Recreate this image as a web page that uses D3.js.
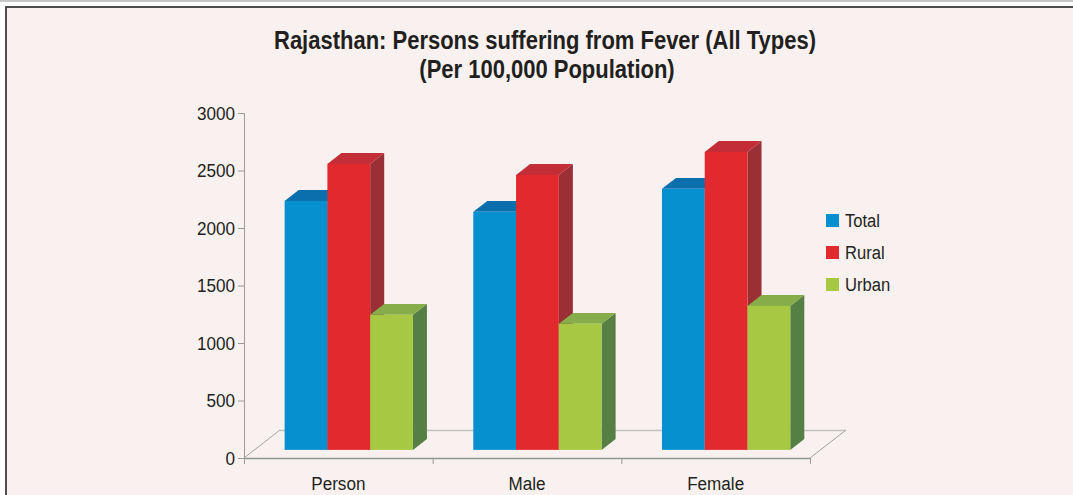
<!DOCTYPE html>
<html>
<head>
<meta charset="utf-8">
<script src="https://cdn.jsdelivr.net/npm/d3@7"></script>
<style>
  body { margin: 0; background: #fff; }
  svg { display: block; font-family: "Liberation Sans", Arial, sans-serif; }
</style>
</head>
<body>
<script>
const categories = ["Person", "Male", "Female"];
const seriesNames = ["Total", "Rural", "Urban"];
const totalValues = [2165, 2070, 2270];
const ruralValues = [2487, 2391, 2591];
const urbanValues = [1174, 1096, 1252];
const yTicks = [0, 500, 1000, 1500, 2000, 2500, 3000];

const colors = {
  Total: { front: "#0790d0", top: "#0b6fae", side: "#0a5f95" },
  Rural: { front: "#e2292d", top: "#c22d38", side: "#9b2f36" },
  Urban: { front: "#a7c843", top: "#87ad4a", side: "#557f44" }
};

const width = 1073;
const height = 495;
const plot = { left: 244, right: 810, top: 113, bottom: 458 };
const floorDepth = { dx: 36, dy: -28 };
const barFront = 0.29;   // where bars start inside the floor depth
const barDepth = 0.39;   // how deep the bars are
const narrow = 0.9;      // squeeze text to look like a narrow face
const titleNarrow = 0.88;

const svg = d3.select("body").append("svg")
    .attr("width", width)
    .attr("height", height);

// page frame
svg.append("line")
    .attr("x1", 0).attr("x2", width).attr("y1", 1).attr("y2", 1)
    .attr("stroke", "#c6c6c6").attr("stroke-width", 2);
svg.append("rect")
    .attr("x", 6).attr("y", 7)
    .attr("width", width + 20).attr("height", height + 20)
    .attr("fill", "#f9f1ef")
    .attr("stroke", "#4d4d4d").attr("stroke-width", 2);

// title
const titleLines = [
  { text: "Rajasthan: Persons suffering from Fever (All Types)", x: 545, y: 49 },
  { text: "(Per 100,000 Population)", x: 547, y: 78 }
];
svg.selectAll(".title")
    .data(titleLines)
    .enter().append("g")
    .attr("class", "title")
    .attr("transform", d => `translate(${d.x},${d.y}) scale(${titleNarrow},1)`)
    .append("text")
    .attr("text-anchor", "middle")
    .attr("font-weight", "bold")
    .attr("font-size", 25)
    .attr("fill", "#231f20")
    .text(d => d.text);

const x = d3.scaleBand()
    .domain(categories)
    .range([plot.left, plot.right])
    .padding(0);

const y = d3.scaleLinear()
    .domain([0, 3000])
    .range([plot.bottom, plot.top]);

const inner = d3.scaleBand()
    .domain(seriesNames)
    .range([0, x.bandwidth() * 0.68])
    .padding(0);

// floor
const fd = floorDepth;
const floor = svg.append("g").attr("fill", "none");
floor.append("line")
    .attr("x1", plot.left + fd.dx).attr("x2", plot.right + fd.dx)
    .attr("y1", plot.bottom + fd.dy + 0.5).attr("y2", plot.bottom + fd.dy + 0.5)
    .attr("stroke", "#c2c2c2").attr("stroke-width", 1.5);
floor.append("line")
    .attr("x1", plot.left).attr("y1", plot.bottom)
    .attr("x2", plot.left + fd.dx).attr("y2", plot.bottom + fd.dy)
    .attr("stroke", "#a4a4a4");
floor.append("line")
    .attr("x1", plot.right).attr("y1", plot.bottom)
    .attr("x2", plot.right + fd.dx).attr("y2", plot.bottom + fd.dy)
    .attr("stroke", "#a4a4a4");

// bars
const data = categories.map((c, i) => ({
  category: c,
  values: [
    { name: "Total", value: totalValues[i] },
    { name: "Rural", value: ruralValues[i] },
    { name: "Urban", value: urbanValues[i] }
  ]
}));

const ox = fd.dx * barFront, oy = fd.dy * barFront;
const bx = fd.dx * barDepth, by = fd.dy * barDepth;
const groupOffset = (x.bandwidth() - inner.range()[1]) / 2 + ox;

const groups = svg.selectAll(".group")
    .data(data)
    .enter().append("g")
    .attr("class", "group")
    .attr("transform", d => `translate(${x(d.category) + groupOffset},0)`);

const bars = groups.selectAll(".bar")
    .data(d => d.values)
    .enter().append("g")
    .attr("class", "bar");

bars.each(function(d) {
  const g = d3.select(this);
  const x0 = inner(d.name);
  const x1 = x0 + inner.bandwidth();
  const yTop = y(d.value) + oy;
  const yBot = y(0) + oy;
  const c = colors[d.name];
  g.append("polygon")
      .attr("points", [[x1, yTop], [x1 + bx, yTop + by], [x1 + bx, yBot + by], [x1, yBot]].join(" "))
      .attr("fill", c.side);
  g.append("polygon")
      .attr("points", [[x0, yTop], [x0 + bx, yTop + by], [x1 + bx, yTop + by], [x1, yTop]].join(" "))
      .attr("fill", c.top);
  g.append("rect")
      .attr("x", x0).attr("y", yTop)
      .attr("width", inner.bandwidth())
      .attr("height", yBot - yTop)
      .attr("fill", c.front);
});

// y axis
const yAxis = svg.append("g")
    .attr("transform", `translate(${plot.left},0)`)
    .call(d3.axisLeft(y).tickValues(yTicks).tickSize(6).tickPadding(3).tickFormat(d3.format("d")));
yAxis.select(".domain").attr("stroke", "#9a9a9a");
yAxis.selectAll(".tick line").attr("stroke", "#9a9a9a");
yAxis.selectAll(".tick text")
    .attr("font-size", 19)
    .attr("fill", "#231f20")
    .attr("font-family", null)
    .attr("x", -9 / narrow)
    .attr("transform", `scale(${narrow},1)`);

// x axis: front floor edge, ticks on category boundaries
svg.append("line")
    .attr("x1", plot.left).attr("x2", plot.right)
    .attr("y1", plot.bottom + 0.5).attr("y2", plot.bottom + 0.5)
    .attr("stroke", "#8f9696").attr("stroke-width", 1.5);
svg.selectAll(".xtick")
    .data(categories.map(c => x(c)).concat([plot.right]))
    .enter().append("line")
    .attr("class", "xtick")
    .attr("x1", d => d + 0.5).attr("x2", d => d + 0.5)
    .attr("y1", plot.bottom).attr("y2", plot.bottom + 6)
    .attr("stroke", "#9a9a9a");
svg.selectAll(".xlabel")
    .data(categories)
    .enter().append("g")
    .attr("class", "xlabel")
    .attr("transform", d => `translate(${x(d) + x.bandwidth() / 2},490) scale(${narrow},1)`)
    .append("text")
    .attr("text-anchor", "middle")
    .attr("font-size", 19)
    .attr("fill", "#231f20")
    .text(d => d);

// legend
const legend = svg.selectAll(".legend")
    .data(seriesNames)
    .enter().append("g")
    .attr("class", "legend")
    .attr("transform", (d, i) => `translate(826,${214 + i * 32})`);
legend.append("rect")
    .attr("width", 13).attr("height", 13)
    .attr("fill", d => colors[d].front);
legend.append("text")
    .attr("transform", `translate(19,13) scale(${narrow * 0.97},1)`)
    .attr("font-size", 19)
    .attr("fill", "#231f20")
    .text(d => d);
</script>
</body>
</html>
